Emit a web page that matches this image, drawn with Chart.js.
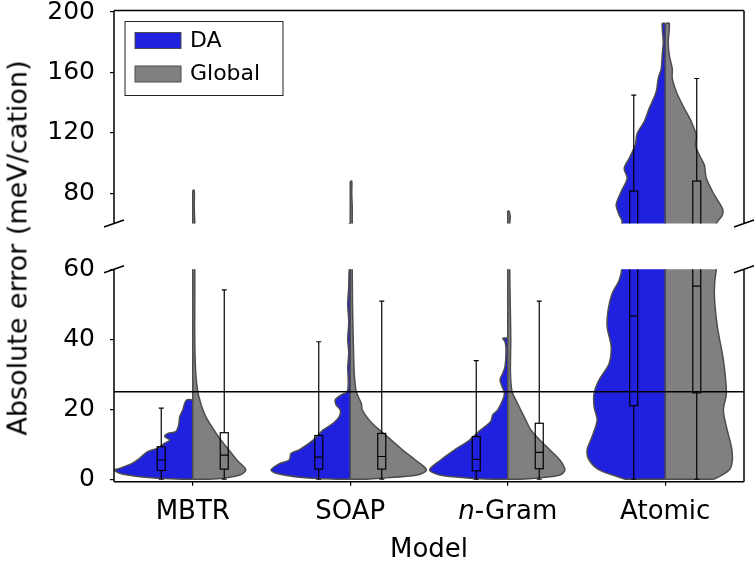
<!DOCTYPE html>
<html>
<head>
<meta charset="utf-8">
<script src="https://cdn.jsdelivr.net/npm/chart.js@4.4.0/dist/chart.umd.min.js"></script>
<style>
  html, body { margin: 0; padding: 0; background: #fff; }
  #wrap { position: relative; width: 756px; height: 564px; overflow: hidden; }
  #topChart { position: absolute; left: 0; top: 0; }
  #bottomChart { position: absolute; left: 0; top: 250px; }
  #yTitle {
    position: absolute; left: 17px; top: 248px;
    transform: translate(-50%, -50%) rotate(-90deg);
    font: 27px "DejaVu Sans"; white-space: nowrap; color: #000;
  }
</style>
</head>
<body>
<div id="wrap">
  <canvas id="topChart" width="756" height="240"></canvas>
  <canvas id="bottomChart" width="756" height="314"></canvas>
  <div id="yTitle">Absolute error (meV/cation)</div>
</div>
<script>
const categories = ['MBTR', 'SOAP', 'n-Gram', 'Atomic'];
const seriesNames = ['DA', 'Global'];
const topTicks = [80, 120, 160, 200];
const bottomTicks = [0, 20, 40, 60];
const threshold = 25;

// violin profiles: error value -> density (half width)
const mbtrDaY = [0, 0.3, 0.7, 1.2, 1.7, 2.7, 3.1, 4.6, 6.0, 7.9, 8.9, 10.3, 11.2, 12.2, 13.1, 13.6, 15.5, 17.9, 19.8, 21.7, 22.7];
const mbtrDaD = [10, 35, 53, 65, 73, 78, 73, 60, 53, 45, 35, 28, 23, 28, 25, 17, 14, 13, 10, 8, 6];
const mbtrGlY = [0, 0.3, 1.2, 2.7, 5.5, 8.4, 11.2, 15, 17.9, 20.7, 22.7, 25, 30.3, 39.8, 50, 60, 70, 82];
const mbtrGlD = [15, 31, 47, 53, 44, 36, 28, 19, 13, 9, 7, 5, 3, 2, 2, 2, 1.5, 1.5];
const soapDaY = [0, 0.6, 1.7, 2.7, 4.4, 5.5, 7.4, 8.4, 11.2, 14.1, 16, 17.9, 19.8, 21.2, 22.7, 24.1, 25, 28, 32, 36, 40, 45, 50, 55, 60];
const soapDaD = [12, 51, 74, 79, 71, 61, 59, 51, 37, 27, 17, 11, 10, 14, 15, 9, 3, 2, 2.5, 1.5, 2.5, 1.5, 2.5, 1.5, 1];
const soapGlY = [0, 0.3, 1.2, 2.7, 5.5, 8.4, 11.2, 14.1, 16.9, 19.8, 21.7, 25, 30.3, 39.8, 49.3, 60, 70, 80, 88];
const soapGlD = [14, 29, 67, 76, 65, 52, 41, 29, 19, 12, 11, 6, 4, 3, 2.3, 2, 2, 1.5, 1.5];
const ngramDaY = [0, 0.3, 1.2, 2.7, 5.5, 8.4, 11.2, 14.1, 16.5, 18.4, 19.8, 22.7, 24.6, 26.5, 28.4, 30.3, 32.2, 36.9, 39.3, 40.3];
const ngramDaD = [15, 38, 68, 78, 67, 53, 38, 27, 17, 15, 10, 5, 3.3, 5.7, 7.7, 5, 2.7, 1.7, 2.7, 5];
const ngramGlY = [0, 0.3, 1.2, 2.7, 5.5, 8.4, 11.2, 14.1, 16.9, 19.8, 22.7, 25, 30.3, 40, 50, 60, 65, 68.3];
const ngramGlD = [12, 28, 52, 57, 52, 42, 32, 23, 18, 13, 8, 4.3, 2.7, 3, 2.5, 2, 2.5, 1];
const atomicDaY = [0, 0.3, 2.7, 5.5, 8.4, 12.2, 16.9, 20.7, 24.6, 28.4, 33.1, 37.9, 43.6, 48.4, 53.1, 56.9, 61.3, 65.7, 72.3, 81.1, 89.9, 96.5, 103.1, 111.9, 119.7, 127.4, 136.2, 147.2, 156, 162.6, 171.4, 180.3, 192.4];
const atomicDaD = [40, 43, 66, 76, 78, 73, 68, 71, 71, 66, 56, 54, 58, 57, 53, 46, 43, 46, 49, 44, 38, 41, 36, 30, 28, 21, 16, 9, 7, 4, 3, 2, 3];
const atomicGlY = [0, 0.3, 2.7, 5.5, 9.3, 15, 19.8, 24.6, 34.1, 43.6, 53.1, 60, 65.7, 70, 78.9, 89.9, 98.7, 105.3, 111.9, 118.4, 127.4, 136.2, 147.2, 156, 162.6, 171.4, 180.3, 192.4];
const atomicGlD = [48, 51, 64, 67, 66, 61, 58, 61, 58, 52, 49, 51, 57, 57, 49, 41, 39, 34, 30, 31, 26, 19, 11, 7, 7, 4, 3, 4];

// box plot stats
const daLow = [0, 0, 0, 0];
const daQ1 = [2.5, 2.9, 2.4, 21.0];
const daMedian = [5.5, 6.3, 5.7, 46.7];
const daQ3 = [9.3, 12.5, 12.2, 81.5];
const daHigh = [20.3, 39.3, 33.9, 145];
const globalLow = [0, 0, 0, 0];
const globalQ1 = [2.9, 2.9, 3.0, 24.7];
const globalMedian = [6.9, 6.5, 7.7, 55.2];
const globalQ3 = [13.3, 13.1, 16.0, 88.1];
const globalHigh = [54.1, 50.9, 50.9, 156];

const violins = [
  [mbtrDaY, mbtrDaD, mbtrGlY, mbtrGlD],
  [soapDaY, soapDaD, soapGlY, soapGlD],
  [ngramDaY, ngramDaD, ngramGlY, ngramGlD],
  [atomicDaY, atomicDaD, atomicGlY, atomicGlD]
];

const BLUE = '#2020df';
const GREY = '#808080';
const EDGE = '#4d4d4d';
const FONT = 'DejaVu Sans';
const DENSITY_MAX = 78.6;
const HALF_WIDTH = 0.5;
const BOX_OFFSET = 0.2;

function halfViolin(cat, ys, ds, side, color) {
  const pts = [{x: cat, y: ys[0]}];
  ys.forEach((y, i) => pts.push({x: cat + side * ds[i] / DENSITY_MAX * HALF_WIDTH, y: y}));
  pts.push({x: cat, y: ys[ys.length - 1]});
  return {
    data: pts, showLine: true, fill: 'shape', backgroundColor: color,
    borderColor: EDGE, borderWidth: 1.5, pointRadius: 0, tension: 0.3, order: 2
  };
}

function buildDatasets(withThreshold) {
  const sets = [];
  violins.forEach((v, i) => {
    sets.push(halfViolin(i, v[0], v[1], -1, BLUE));
    sets.push(halfViolin(i, v[2], v[3], 1, GREY));
    const top = Math.max(v[0][v[0].length - 1], v[2][v[2].length - 1]);
    sets.push({
      data: [{x: i, y: 0}, {x: i, y: top}], showLine: true,
      borderColor: EDGE, borderWidth: 1.5, pointRadius: 0, order: 1
    });
  });
  if (withThreshold) {
    sets.push({
      data: [{x: -0.5, y: threshold}, {x: 3.5, y: threshold}], showLine: true,
      borderColor: '#000', borderWidth: 1.5, pointRadius: 0, order: 0
    });
  }
  return sets;
}

function drawBox(ctx, xs, ys, xv, lo, q1, med, q3, hi) {
  const x = xs.getPixelForValue(xv);
  const yLo = ys.getPixelForValue(lo), yHi = ys.getPixelForValue(hi);
  const y1 = ys.getPixelForValue(q1), y3 = ys.getPixelForValue(q3), ym = ys.getPixelForValue(med);
  ctx.beginPath();
  ctx.moveTo(x, yLo); ctx.lineTo(x, y1);
  ctx.moveTo(x, y3); ctx.lineTo(x, yHi);
  ctx.moveTo(x - 2.5, yLo); ctx.lineTo(x + 2.5, yLo);
  ctx.moveTo(x - 2.5, yHi); ctx.lineTo(x + 2.5, yHi);
  ctx.moveTo(x - 4, ym); ctx.lineTo(x + 4, ym);
  ctx.stroke();
  ctx.strokeRect(x - 4, y3, 8, y1 - y3);
}

const boxPlugin = {
  id: 'boxes',
  afterDatasetsDraw(chart) {
    const {ctx, chartArea: a, scales: {x, y}} = chart;
    ctx.save();
    ctx.beginPath();
    ctx.rect(a.left, a.top, a.right - a.left, a.bottom - a.top);
    ctx.clip();
    ctx.strokeStyle = '#000';
    ctx.lineWidth = 1.2;
    categories.forEach((c, i) => {
      drawBox(ctx, x, y, i - BOX_OFFSET, daLow[i], daQ1[i], daMedian[i], daQ3[i], daHigh[i]);
      drawBox(ctx, x, y, i + BOX_OFFSET, globalLow[i], globalQ1[i], globalMedian[i], globalQ3[i], globalHigh[i]);
    });
    ctx.restore();
  }
};

const framePlugin = {
  id: 'frame',
  afterDraw(chart, args, opts) {
    const {ctx, chartArea: a} = chart;
    ctx.save();
    ctx.strokeStyle = '#000';
    ctx.lineWidth = 1.5;
    ctx.beginPath();
    if (opts.top) { ctx.moveTo(a.left, a.top); ctx.lineTo(a.right, a.top); }
    if (opts.bottom) { ctx.moveTo(a.left, a.bottom); ctx.lineTo(a.right, a.bottom); }
    ctx.moveTo(a.left, a.top); ctx.lineTo(a.left, a.bottom);
    ctx.moveTo(a.right, a.top); ctx.lineTo(a.right, a.bottom);
    // break marks
    const yb = opts.top ? a.bottom : a.top;
    [a.left, a.right].forEach(xb => {
      ctx.moveTo(xb - 10, yb + 3.5); ctx.lineTo(xb + 10, yb - 3.5);
    });
    ctx.stroke();
    ctx.restore();
  }
};

const legendPlugin = {
  id: 'violinLegend',
  afterDraw(chart) {
    const {ctx, chartArea: a} = chart;
    const x0 = a.left + 11, y0 = a.top + 11;
    ctx.save();
    ctx.fillStyle = '#fff';
    ctx.strokeStyle = '#222';
    ctx.lineWidth = 1;
    ctx.fillRect(x0, y0, 158, 74);
    ctx.strokeRect(x0, y0, 158, 74);
    [BLUE, GREY].forEach((col, i) => {
      const py = y0 + 11 + i * 33.5;
      ctx.fillStyle = col;
      ctx.fillRect(x0 + 10, py, 46, 16);
      ctx.strokeStyle = EDGE;
      ctx.strokeRect(x0 + 10, py, 46, 16);
      ctx.fillStyle = '#000';
      ctx.font = '22px "' + FONT + '"';
      ctx.textBaseline = 'middle';
      ctx.fillText(seriesNames[i], x0 + 65, py + 8.5);
    });
    ctx.restore();
  }
};

const xLabelPlugin = {
  id: 'xLabels',
  afterDraw(chart) {
    const {ctx, chartArea: a, scales: {x}} = chart;
    ctx.save();
    ctx.fillStyle = '#000';
    ctx.textBaseline = 'middle';
    const normal = '26px "' + FONT + '"';
    const italic = 'italic 26px "' + FONT + '"';
    const ly = a.bottom + 31;
    categories.forEach((c, i) => {
      const cx = x.getPixelForValue(i);
      if (c.startsWith('n-')) {
        ctx.font = italic;
        const w1 = ctx.measureText('n').width;
        ctx.font = normal;
        const w2 = ctx.measureText(c.slice(1)).width;
        const sx = cx - (w1 + w2) / 2;
        ctx.font = italic;
        ctx.fillText('n', sx, ly);
        ctx.font = normal;
        ctx.fillText(c.slice(1), sx + w1, ly);
      } else {
        ctx.font = normal;
        ctx.textAlign = 'center';
        ctx.fillText(c, cx, ly);
        ctx.textAlign = 'left';
      }
    });
    ctx.font = '26px "' + FONT + '"';
    ctx.textAlign = 'center';
    ctx.fillText('Model', (a.left + a.right) / 2, a.bottom + 69);
    ctx.restore();
  }
};

function yAxis(min, max, ticks) {
  return {
    type: 'linear', min: min, max: max,
    afterBuildTicks: s => { s.ticks = ticks.map(v => ({value: v})); },
    afterFit: s => { s.width = 114; s.paddingTop = 0; s.paddingBottom = 0; },
    ticks: {color: '#000', font: {family: FONT, size: 25}, padding: 15},
    grid: {drawOnChartArea: false, drawTicks: true, tickLength: 4, color: '#000', lineWidth: 1.2},
    border: {display: false}
  };
}

function xAxis(show) {
  return {
    type: 'linear', min: -0.5, max: 3.5, display: show,
    afterBuildTicks: s => { s.ticks = categories.map((c, i) => ({value: i})); },
    afterFit: s => { s.height = show ? 82.3 : 0; s.paddingLeft = 0; s.paddingRight = 0; },
    ticks: {display: false},
    grid: {drawOnChartArea: false, drawTicks: true, tickLength: 4, color: '#000', lineWidth: 1.2},
    border: {display: false}
  };
}

const common = {
  responsive: false, animation: false,
  elements: {line: {capBezierPoints: false}},
};

new Chart(document.getElementById('topChart'), {
  type: 'scatter',
  data: {datasets: buildDatasets(false)},
  options: Object.assign({}, common, {
    layout: {padding: {top: 10.5, right: 12, bottom: 16.5, left: 0}},
    scales: {x: xAxis(false), y: yAxis(60, 201, topTicks)},
    plugins: {legend: {display: false}, tooltip: {enabled: false}, frame: {top: true}}
  }),
  plugins: [boxPlugin, framePlugin, legendPlugin]
});

new Chart(document.getElementById('bottomChart'), {
  type: 'scatter',
  data: {datasets: buildDatasets(true)},
  options: Object.assign({}, common, {
    layout: {padding: {top: 19.3, right: 12, bottom: 0, left: 0}},
    scales: {x: xAxis(true), y: yAxis(-0.7, 60, bottomTicks)},
    plugins: {legend: {display: false}, tooltip: {enabled: false}, frame: {bottom: true}}
  }),
  plugins: [boxPlugin, framePlugin, xLabelPlugin]
});
</script>
</body>
</html>
